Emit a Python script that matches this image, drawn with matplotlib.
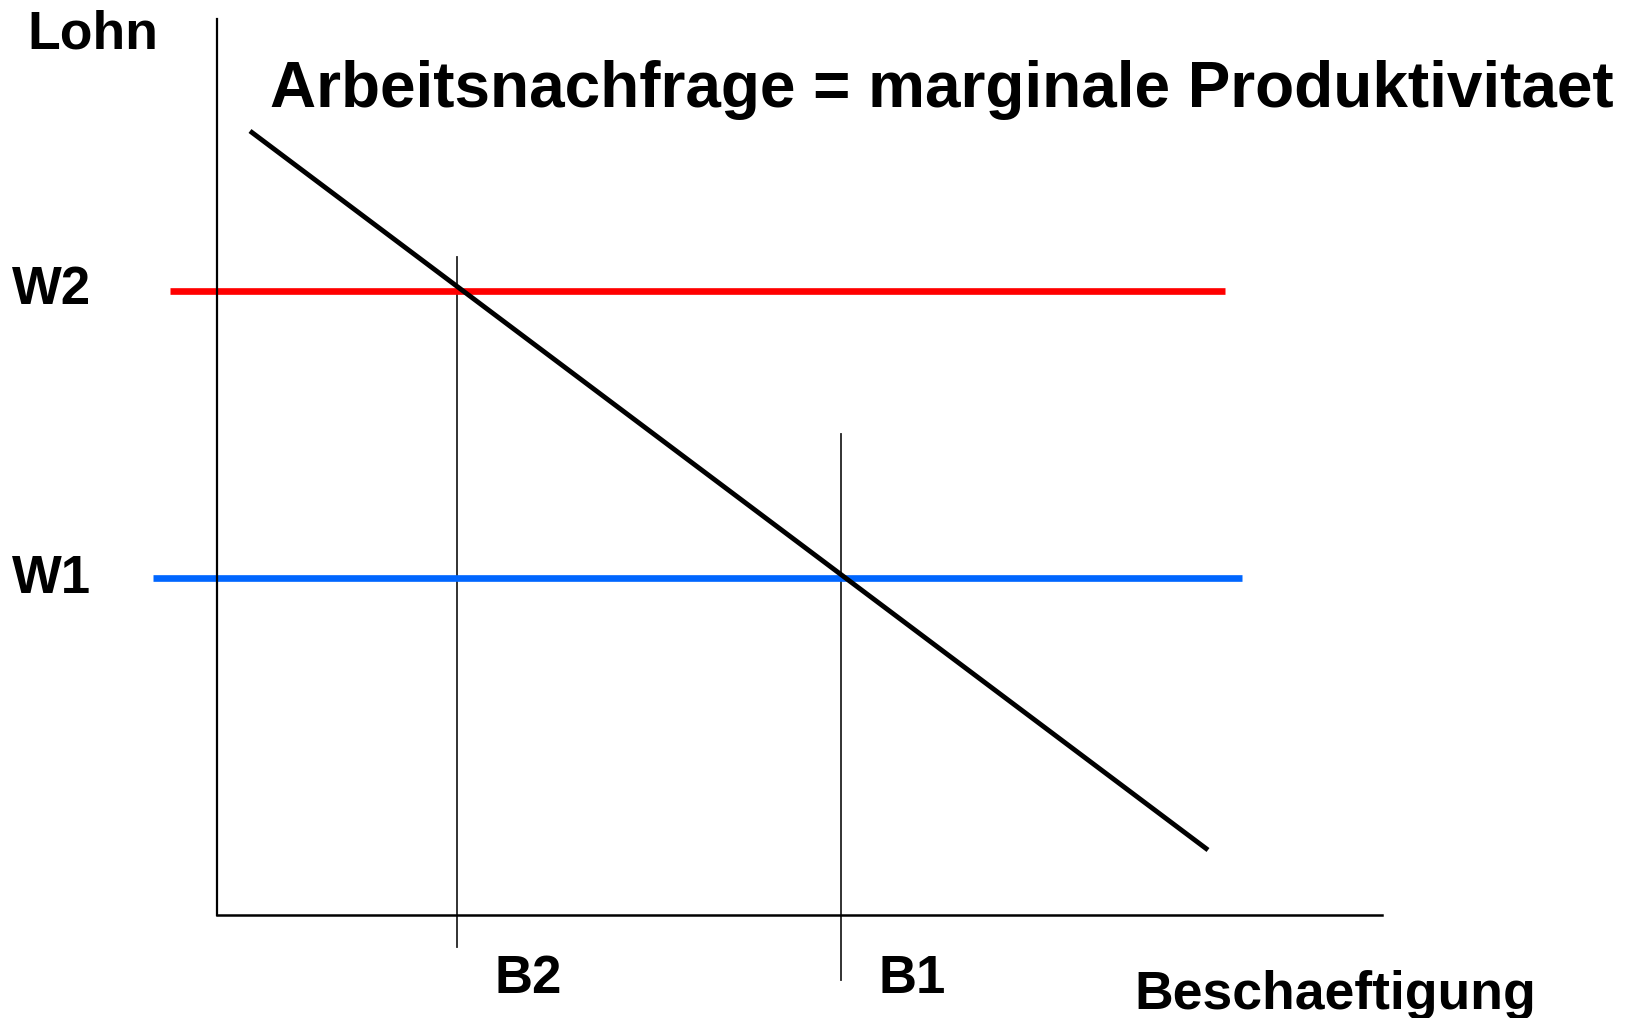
import matplotlib.pyplot as plt

# wage levels and employment levels (schematic units)
wage_labels = ["W2", "W1"]
wage_values = [6.24, 3.37]
wage_colors = ["#ff0000", "#0066ff"]
wage_x_start = [-0.47, -0.64]
wage_x_end = [10.08, 10.25]

emp_labels = ["B2", "B1"]
emp_values = [2.40, 6.24]
emp_y_top = [6.58, 4.81]
emp_y_bottom = [-0.32, -0.65]

# labour demand line (marginal productivity)
demand_x = [0.33, 9.91]
demand_y = [7.84, 0.65]

fig = plt.figure(figsize=(16.34, 10.18), dpi=100)
ax = fig.add_axes([0, 0, 1, 1])
ax.set_xlim(-2.17, 14.17)
ax.set_ylim(-1.03, 9.15)

# axes as spines through the origin
for side in ["top", "right"]:
    ax.spines[side].set_visible(False)
ax.spines["left"].set_position(("data", 0))
ax.spines["bottom"].set_position(("data", 0))
ax.spines["left"].set_bounds(0, 8.96)
ax.spines["bottom"].set_bounds(0, 11.65)
ax.spines["left"].set_linewidth(1.6)
ax.spines["bottom"].set_linewidth(1.8)
ax.set_xticks([])
ax.set_yticks([])
ax.patch.set_visible(False)

font = dict(family="Liberation Sans", weight="bold", color="black")

# employment verticals
for x, y0, y1 in zip(emp_values, emp_y_bottom, emp_y_top):
    ax.plot([x, x], [y0, y1], color="#222222", lw=1.3)

# wage lines
for w, c, x0, x1 in zip(wage_values, wage_colors, wage_x_start, wage_x_end):
    ax.plot([x0, x1], [w, w], color=c, lw=4.8, solid_capstyle="butt")

# demand curve
ax.plot(demand_x, demand_y, color="black", lw=3.5, solid_capstyle="butt")

# labels
ax.text(-1.90, 8.66, "Lohn", fontsize=38.5, va="baseline", **font)
ax.text(0.53, 8.08, "Arbeitsnachfrage = marginale Produktivitaet",
        fontsize=46, va="baseline", **font)
ax.text(-2.05, 6.11, wage_labels[0], fontsize=38, va="baseline", **font)
ax.text(-2.05, 3.22, wage_labels[1], fontsize=38, va="baseline", **font)
ax.text(2.77, -0.78, emp_labels[0], fontsize=38, va="baseline", **font)
ax.text(6.61, -0.78, emp_labels[1], fontsize=38, va="baseline", **font)
ax.text(9.17, -0.94, "Beschaeftigung", fontsize=38.5, va="baseline", **font)

fig.savefig("out.png", dpi=100)
